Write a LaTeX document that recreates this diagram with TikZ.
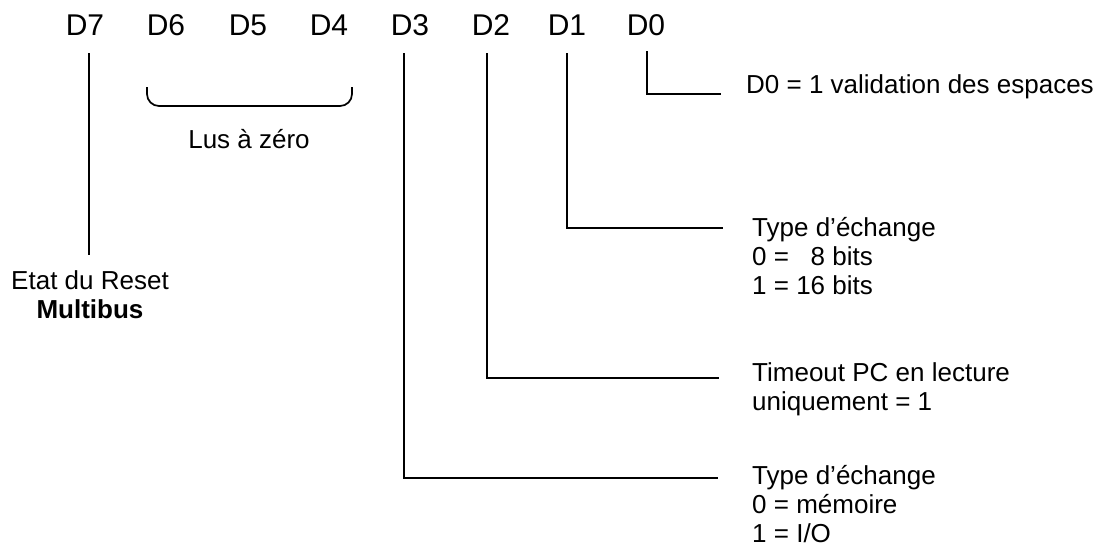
\documentclass[tikz,border=0pt]{standalone}
\usepackage{fontspec}
\setmainfont{Liberation Sans}
\begin{document}
\begin{tikzpicture}[x=1pt,y=-1pt,
  bit/.style={font=\fontsize{30}{34}\selectfont, inner sep=0pt, anchor=base},
  lbl/.style={font=\fontsize{26}{30}\selectfont, inner sep=0pt, anchor=base west},
  clbl/.style={font=\fontsize{26}{30}\selectfont, inner sep=0pt, anchor=base},
  wire/.style={line width=1.7pt, line cap=rect}]
\useasboundingbox (0,0) rectangle (1112,547);

% bit labels
\node[bit] (D7) at (85,35) {D7};
\node[bit] (D6) at (166,35) {D6};
\node[bit] (D5) at (248,35) {D5};
\node[bit] (D4) at (329,35) {D4};
\node[bit] (D3) at (410,35) {D3};
\node[bit] (D2) at (491,35) {D2};
\node[bit] (D1) at (567,35) {D1};
\node[bit] (D0) at (646,35) {D0};

% descriptions
\node[clbl] (etat) at (90,289) {Etat du Reset};
\node[clbl] (multi) at (90,318) {\bfseries Multibus};
\node[clbl] (lus) at (249,148) {Lus à zéro};

\node[lbl] (t0) at (746,93) {D0 = 1 validation des espaces};

\node[lbl] (t1a) at (752,236) {Type d’échange};
\node[lbl] (t1b) at (752,265) {0 = \phantom{1}8 bits};
\node[lbl] (t1c) at (752,294) {1 = 16 bits};

\node[lbl] (t2a) at (752,381) {Timeout PC en lecture};
\node[lbl] (t2b) at (752,410) {uniquement = 1};

\node[lbl] (t3a) at (752,484) {Type d’échange};
\node[lbl] (t3b) at (752,513) {0 = mémoire};
\node[lbl] (t3c) at (752,542) {1 = I/O};

% connector points
\coordinate (s7) at (89,54);  \coordinate (e7) at (89,254);
\coordinate (s3) at (404,54); \coordinate (c3) at (404,478); \coordinate (e3) at (717,478);
\coordinate (s2) at (487,54); \coordinate (c2) at (487,378); \coordinate (e2) at (718,378);
\coordinate (s1) at (567,54); \coordinate (c1) at (567,228); \coordinate (e1) at (722,228);
\coordinate (s0) at (647,52); \coordinate (c0) at (647,94);  \coordinate (e0) at (720,94);

\draw[wire] (s7) -- (e7);
\draw[wire] (s3) -- (c3) -- (e3);
\draw[wire] (s2) -- (c2) -- (e2);
\draw[wire] (s1) -- (c1) -- (e1);
\draw[wire] (s0) -- (c0) -- (e0);

% brace under D6 D5 D4
\coordinate (b1) at (147,87); \coordinate (b2) at (147,106);
\coordinate (b3) at (352,106); \coordinate (b4) at (352,87);
\draw[line width=1.7pt, rounded corners=12pt] (b1) -- (b2) -- (b3) -- (b4);
\end{tikzpicture}
\end{document}
